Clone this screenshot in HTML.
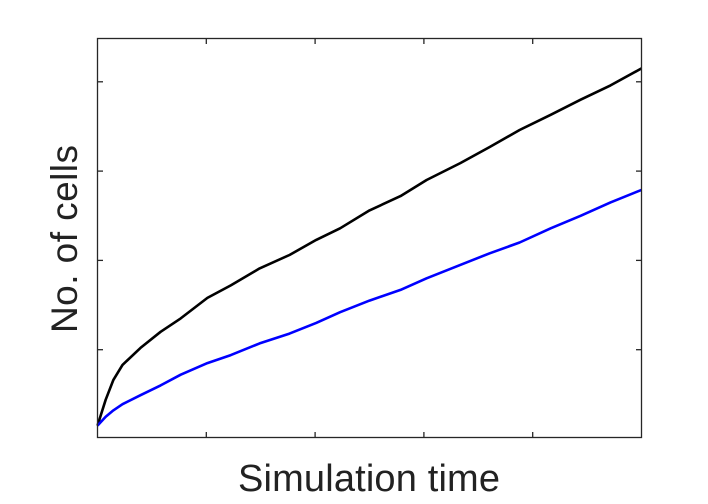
<!DOCTYPE html>
<html><head><meta charset="utf-8"><style>
html,body{margin:0;padding:0;background:#fff;}
svg{display:block;}
text{font-family:"Liberation Sans",Arial,sans-serif;fill:#222;}
</style></head><body>
<svg id="chart" width="708" height="504" viewBox="0 0 708 504">
<rect x="0" y="0" width="708" height="504" fill="#fff"/>
<g id="marks"></g>
<rect x="97.5" y="38.5" width="544" height="399" fill="none" stroke="#262626" stroke-width="1.3"/>
<g id="ticks"></g>
<text x="369" y="491" font-size="38" text-anchor="middle" textLength="262">Simulation time</text>
<text x="0" y="0" font-size="37" text-anchor="middle" textLength="188" transform="translate(77,239) rotate(-90)">No. of cells</text>
</svg>
<script>
const xValues = [0,0.15,0.29,0.46,0.79,1.16,1.53,2.02,2.45,2.98,3.53,4.02,4.46,5.0,5.57,6.05,6.67,7.21,7.76,8.33,8.88,9.43,10];
const blackSeries = [0.15,0.44,0.66,0.83,1.02,1.20,1.35,1.58,1.72,1.91,2.06,2.23,2.36,2.56,2.72,2.90,3.09,3.27,3.46,3.63,3.80,3.96,4.15];
const blueSeries = [0.15,0.25,0.32,0.39,0.49,0.60,0.72,0.85,0.94,1.07,1.18,1.30,1.42,1.55,1.67,1.80,1.95,2.08,2.20,2.36,2.50,2.65,2.79];
const xTicks = [2,4,6,8];
const yTicks = [1,2,3,4];

const NS = "http://www.w3.org/2000/svg";
function xScale(v){ return 97.5 + v * 54.4; }
function yScale(v){ return 439 - v * 89.3; }

const marks = document.getElementById('marks');
function drawLine(vals, color, name){
  const p = document.createElementNS(NS, 'path');
  let d = '';
  vals.forEach((v,i)=>{ d += (i?'L':'M') + xScale(xValues[i]).toFixed(1) + ',' + yScale(v).toFixed(1); });
  p.setAttribute('d', d);
  p.setAttribute('fill', 'none');
  p.setAttribute('stroke', color);
  p.setAttribute('stroke-width', '2.6');
  p.setAttribute('stroke-linejoin', 'round');
  
  
  marks.appendChild(p);
}
drawLine(blackSeries, '#000', 'black-series-line');
drawLine(blueSeries, '#0000ff', 'blue-series-line');

const ticks = document.getElementById('ticks');
function tick(x1,y1,x2,y2,name){
  const l = document.createElementNS(NS, 'line');
  l.setAttribute('x1', x1); l.setAttribute('y1', y1);
  l.setAttribute('x2', x2); l.setAttribute('y2', y2);
  l.setAttribute('stroke', '#262626');
  l.setAttribute('stroke-width', '1.3');
  
  
  ticks.appendChild(l);
}
xTicks.forEach(t=>{
  const x = xScale(t);
  tick(x, 437.5, x, 432, 'x-tick');
  tick(x, 38.5, x, 44, 'x-tick-top');
});
yTicks.forEach(t=>{
  const y = yScale(t);
  tick(97.5, y, 103, y, 'y-tick');
  tick(641.5, y, 636, y, 'y-tick-right');
});
</script>
</body></html>
